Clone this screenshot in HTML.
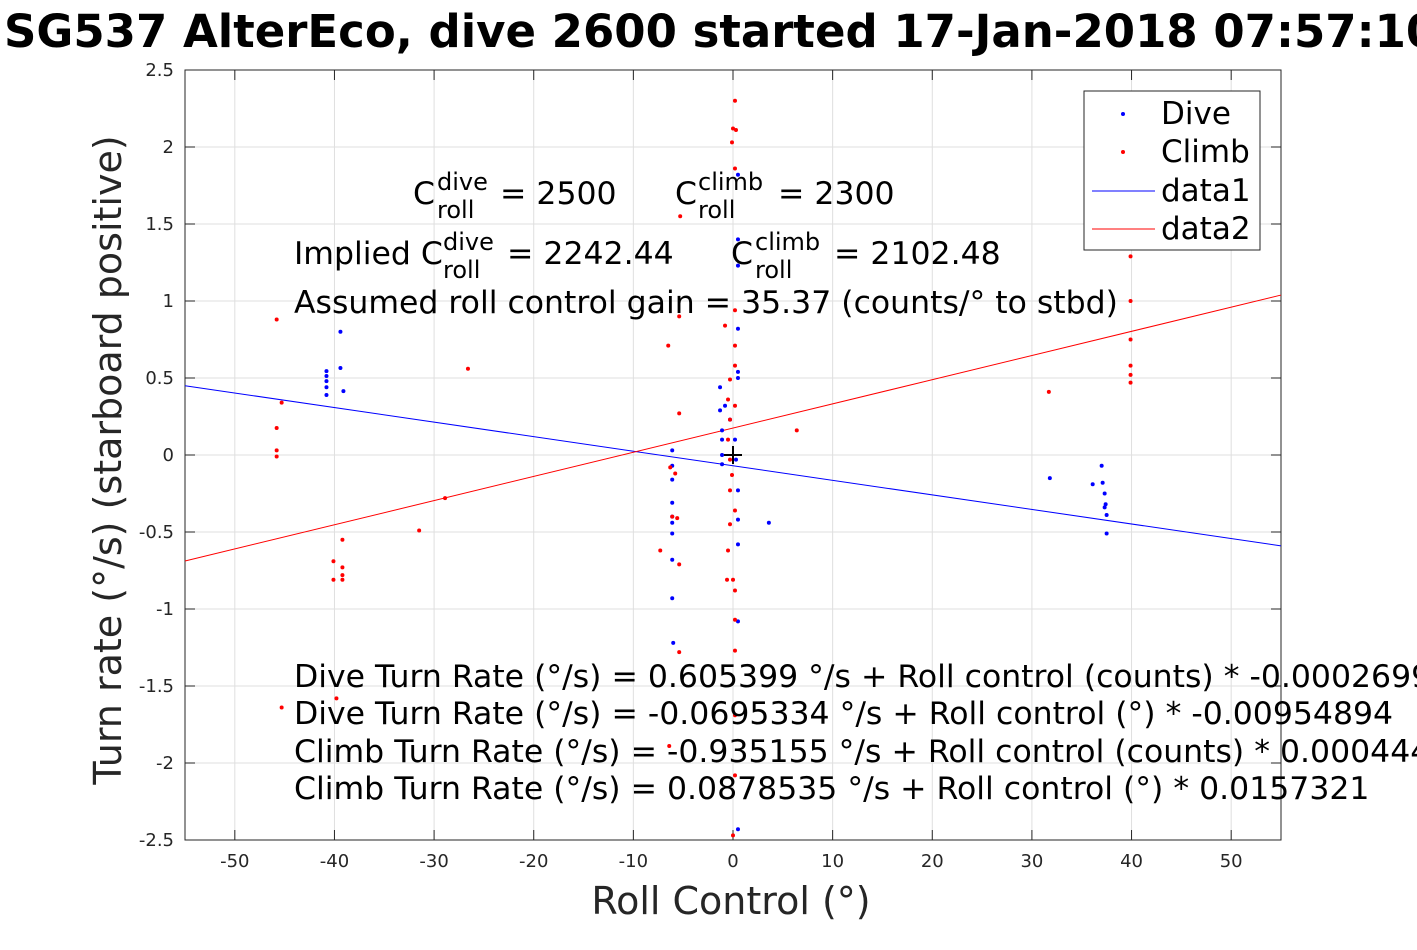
<!DOCTYPE html>
<html><head><meta charset="utf-8"><style>
body{margin:0;background:#fff;width:1417px;height:945px;overflow:hidden}
svg{font-family:"DejaVu Sans","Liberation Sans",sans-serif}
</style></head><body>
<svg id="chart" width="1417" height="945" xmlns="http://www.w3.org/2000/svg">
<text x="4" y="47" font-size="45" font-weight="bold">SG537 AlterEco, dive 2600 started 17-Jan-2018 07:57:10</text>
<g id="grid"></g>
<rect x="185" y="70" width="1096" height="770" fill="none" stroke="#262626" stroke-width="1"/>
<g id="ticks" font-size="18" fill="#262626"></g>
<g id="marks"></g>
<text x="731" y="914" font-size="38" text-anchor="middle" fill="#262626">Roll Control (°)</text>
<text transform="translate(121,460) rotate(-90)" font-size="38" text-anchor="middle" fill="#262626">Turn rate (°/s) (starboard positive)</text>
<g font-size="31.5">
<text x="413" y="204">C</text><text x="437" y="190" font-size="24">dive</text><text x="437" y="218" font-size="24">roll</text><text x="500" y="204">= 2500</text>
<text x="675" y="204">C</text><text x="698" y="190" font-size="24">climb</text><text x="698" y="218" font-size="24">roll</text><text x="778" y="204">= 2300</text>
<text x="294" y="264">Implied C</text><text x="443" y="250" font-size="24">dive</text><text x="443" y="278" font-size="24">roll</text><text x="507" y="264">= 2242.44</text>
<text x="731" y="264">C</text><text x="755" y="250" font-size="24">climb</text><text x="755" y="278" font-size="24">roll</text><text x="834" y="264">= 2102.48</text>
<text x="294" y="313">Assumed roll control gain = 35.37 (counts/° to stbd)</text>
<text x="294" y="687">Dive Turn Rate (°/s) = 0.605399 °/s + Roll control (counts) * -0.000269977</text>
<text x="294" y="724">Dive Turn Rate (°/s) = -0.0695334 °/s + Roll control (°) * -0.00954894</text>
<text x="294" y="762">Climb Turn Rate (°/s) = -0.935155 °/s + Roll control (counts) * 0.000444794</text>
<text x="294" y="799">Climb Turn Rate (°/s) = 0.0878535 °/s + Roll control (°) * 0.0157321</text>
</g>
<g>
<rect x="1084" y="91" width="176" height="159" fill="#fff" stroke="#262626"/>
<circle cx="1123" cy="114" r="2" fill="#0000ff"/><text x="1161" y="124" font-size="31">Dive</text>
<circle cx="1123" cy="152" r="2" fill="#ff0000"/><text x="1161" y="162" font-size="31">Climb</text>
<line x1="1092" y1="191" x2="1155" y2="191" stroke="#0000ff"/><text x="1161" y="201" font-size="31">data1</text>
<line x1="1092" y1="229" x2="1155" y2="229" stroke="#ff0000"/><text x="1161" y="239" font-size="31">data2</text>
</g>
</svg>
<script>
const xTicks=[-50,-40,-30,-20,-10,0,10,20,30,40,50];
const yTicks=[-2.5,-2,-1.5,-1,-0.5,0,0.5,1,1.5,2,2.5];
const diveX=[-40.8,-40.8,-40.8,-40.8,-40.8,-39.4,-39.4,-39.1,-6.1,-6.1,-6.1,-6.1,-6.1,-6.1,-6.1,-6.1,-6.1,-6.0,0.5,0.5,0.5,0.5,0.5,0.5,-1.3,-1.3,-1.1,-1.1,-1.1,-1.1,-0.8,-0.3,0.2,0.3,0.5,0.5,0.5,0.5,0.5,3.6,31.8,36.1,37.0,37.1,37.3,37.4,37.5,37.5,37.3];
const diveY=[0.545,0.513,0.48,0.44,0.39,0.8,0.565,0.415,0.03,-0.07,-0.16,-0.31,-0.40,-0.44,-0.51,-0.68,-0.93,-1.22,1.82,1.40,1.23,0.82,0.54,0.5,0.44,0.29,0.16,0.1,0,-0.06,0.32,0.23,0.1,-0.03,-0.23,-0.42,-0.58,-1.08,-2.43,-0.44,-0.15,-0.19,-0.07,-0.18,-0.25,-0.32,-0.39,-0.51,-0.34];
const climbX=[-45.3,-45.8,-45.8,-45.8,-45.8,-40.1,-40.1,-39.2,-39.2,-39.2,-39.2,-39.8,-45.3,-31.5,-28.9,-26.6,-6.5,-5.4,-6.1,-5.8,-6.3,-5.6,-5.4,-7.3,-6.4,-5.4,-5.3,-5.4,0.2,0,0.3,-0.1,0.2,-0.8,0.2,0.2,0.2,-0.3,-0.5,0.2,-0.3,-0.5,-0.3,-0.1,-0.3,0.2,-0.3,-0.5,0,0.2,-0.6,0.2,0.2,0.2,0.2,0,6.4,31.7,39.9,39.9,39.9,39.9,39.9,39.9];
const climbY=[0.34,0.88,0.175,0.03,-0.01,-0.69,-0.81,-0.73,-0.78,-0.81,-0.55,-1.58,-1.64,-0.49,-0.28,0.56,0.71,0.27,-0.40,-0.12,-0.08,-0.41,-0.71,-0.62,-1.89,-1.28,1.55,0.9,2.30,2.12,2.11,2.03,1.86,0.84,0.94,0.71,0.58,0.49,0.36,0.32,0.23,0.1,-0.03,-0.13,-0.23,-0.36,-0.45,-0.62,-0.81,-0.88,-0.81,-1.07,-1.27,-1.69,-2.08,-2.47,0.16,0.41,1.29,1.0,0.75,0.58,0.52,0.47];
const fitDive=[-0.07,-0.00945];
const fitClimb=[0.175,0.0157];
const xMin=-55,xMax=55,yMin=-2.5,yMax=2.5,L=185,R=1281,T=70,B=840;
const sx=v=>L+(v-xMin)/(xMax-xMin)*(R-L);
const sy=v=>B-(v-yMin)/(yMax-yMin)*(B-T);
const NS="http://www.w3.org/2000/svg";
function mk(p,tag,a){const e=document.createElementNS(NS,tag);for(const k in a)e.setAttribute(k,a[k]);p.appendChild(e);return e;}
const grid=document.getElementById('grid'),ticks=document.getElementById('ticks'),marks=document.getElementById('marks');
xTicks.forEach(t=>{const x=sx(t);
 const g=mk(grid,'line',{x1:x,x2:x,y1:T,y2:B,stroke:'#dfdfdf'});
 
 
 const tx=mk(ticks,'text',{x:x,y:B+27,'text-anchor':'middle'});tx.textContent=t;
 
 
 mk(ticks,'line',{x1:x,x2:x,y1:B,y2:B-10,stroke:'#262626'});mk(ticks,'line',{x1:x,x2:x,y1:T,y2:T+10,stroke:'#262626'});});
yTicks.forEach(t=>{const y=sy(t);
 const g=mk(grid,'line',{x1:L,x2:R,y1:y,y2:y,stroke:'#dfdfdf'});
 
 
 const tx=mk(ticks,'text',{x:L-11,y:y+6,'text-anchor':'end'});tx.textContent=t;
 
 
 mk(ticks,'line',{x1:L,x2:L+10,y1:y,y2:y,stroke:'#262626'});mk(ticks,'line',{x1:R,x2:R-10,y1:y,y2:y,stroke:'#262626'});});
const l1=mk(marks,'line',{x1:sx(xMin),y1:sy(fitDive[0]+fitDive[1]*xMin),x2:sx(xMax),y2:sy(fitDive[0]+fitDive[1]*xMax),stroke:'#0000ff'});


const l2=mk(marks,'line',{x1:sx(xMin),y1:sy(fitClimb[0]+fitClimb[1]*xMin),x2:sx(xMax),y2:sy(fitClimb[0]+fitClimb[1]*xMax),stroke:'#ff0000'});


diveX.forEach((v,i)=>{const c=mk(marks,'circle',{cx:sx(v),cy:sy(diveY[i]),r:2,fill:'#0000ff'});
 
 });
climbX.forEach((v,i)=>{const c=mk(marks,'circle',{cx:sx(v),cy:sy(climbY[i]),r:2,fill:'#ff0000'});
 
 });
const cx=sx(0),cy=sy(0);
mk(marks,'line',{x1:cx-9,x2:cx+9,y1:cy,y2:cy,stroke:'#000','stroke-width':2});
mk(marks,'line',{x1:cx,x2:cx,y1:cy-9,y2:cy+9,stroke:'#000','stroke-width':2});
</script>
</body></html>
